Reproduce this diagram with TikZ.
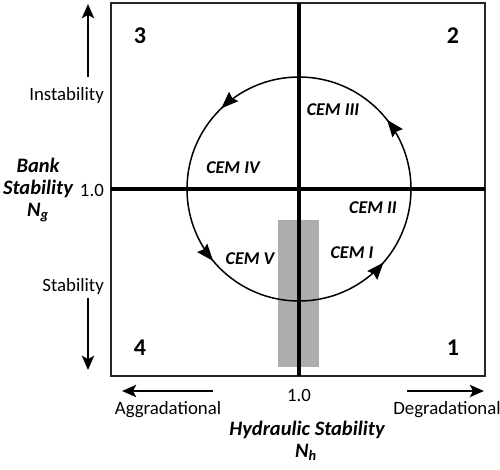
\documentclass[tikz,border=0pt]{standalone}
\usepackage{fontspec}
\setmainfont{Carlito}
\usetikzlibrary{arrows.meta,decorations.markings}
\begin{document}
\begin{tikzpicture}[x=1pt,y=-1pt,
  lbl/.style={inner sep=0pt,font=\fontsize{18.8}{22}\selectfont},
  bi/.style={inner sep=0pt,font=\fontsize{20.5}{24}\selectfont\bfseries\itshape},
  cem/.style={inner sep=0pt,font=\fontsize{18}{20}\selectfont\bfseries\itshape},
  quad/.style={inner sep=0pt,font=\fontsize{24}{26}\selectfont\bfseries},
  axarrow/.style={line width=2.8pt,-{Stealth[length=14pt,width=12pt,inset=3pt]}},
  cyc/.style={line width=1.5pt,postaction=decorate,decoration={markings,
    mark=at position 0.136 with {\arrow{Stealth[length=17pt,width=13pt,inset=2pt]}},
    mark=at position 0.356 with {\arrow{Stealth[length=17pt,width=13pt,inset=2pt]}},
    mark=at position 0.622 with {\arrow{Stealth[length=17pt,width=13pt,inset=2pt]}},
    mark=at position 0.861 with {\arrow{Stealth[length=17pt,width=13pt,inset=2pt]}}}}
]
\useasboundingbox (0,0) rectangle (500,469);
% gray band
\fill[black!32] (278,220) rectangle (319,367);
% frame
\draw[line width=2.2pt,black!85] (111,3) rectangle (485,376);
% axes
\coordinate (vt) at (299,3);
\coordinate (vb) at (299,376);
\coordinate (hl) at (111,189);
\coordinate (hr) at (485,189);
\draw[line width=3.3pt] (vt) -- (vb);
\draw[line width=3.3pt] (hl) -- (hr);
% cycle circle
\coordinate (cc) at (299,189);
\draw[cyc] (cc) ++(0,112) arc[start angle=90,end angle=-270,radius=112];
% quadrant numbers
\node[quad] (q3) at (140,36) {3};
\node[quad] (q2) at (453,36) {2};
\node[quad] (q4) at (140,348) {4};
\node[quad] (q1) at (453,348) {1};
% CEM labels
\node[cem] (c3) at (333,110) {CEM III};
\node[cem] (c2) at (373,208) {CEM II};
\node[cem] (c1) at (352,253) {CEM I};
\node[cem] (c5) at (250,259) {CEM V};
\node[cem] (c4) at (233,168) {CEM IV};
% left side
\node[lbl,anchor=east] (inst) at (104,95) {Instability};
\node[lbl,anchor=east] (stab) at (104,286) {Stability};
\node[lbl,anchor=east] (one1) at (104,190) {1.0};
\coordinate (ua0) at (88,77);
\coordinate (ua1) at (88,4);
\coordinate (da0) at (88,298);
\coordinate (da1) at (88,370);
\draw[axarrow] (ua0) -- (ua1);
\draw[axarrow] (da0) -- (da1);
\node[bi] (bank) at (38,165) {Bank};
\node[bi] (bstab) at (38,189) {Stability};
\node[bi] (ng) at (38,213) {N\textsubscript{g}};
% bottom
\node[lbl] (one2) at (299,395) {1.0};
\coordinate (la0) at (213,391);
\coordinate (la1) at (122,391);
\coordinate (ra0) at (407,391);
\coordinate (ra1) at (484,391);
\draw[axarrow] (la0) -- (la1);
\draw[axarrow] (ra0) -- (ra1);
\node[lbl] (agg) at (168,410) {Aggradational};
\node[lbl] (deg) at (447,410) {Degradational};
\node[bi] (hyd) at (307,430) {Hydraulic Stability};
\node[bi] (nh) at (306,452) {N\textsubscript{h}};
\end{tikzpicture}
\end{document}
